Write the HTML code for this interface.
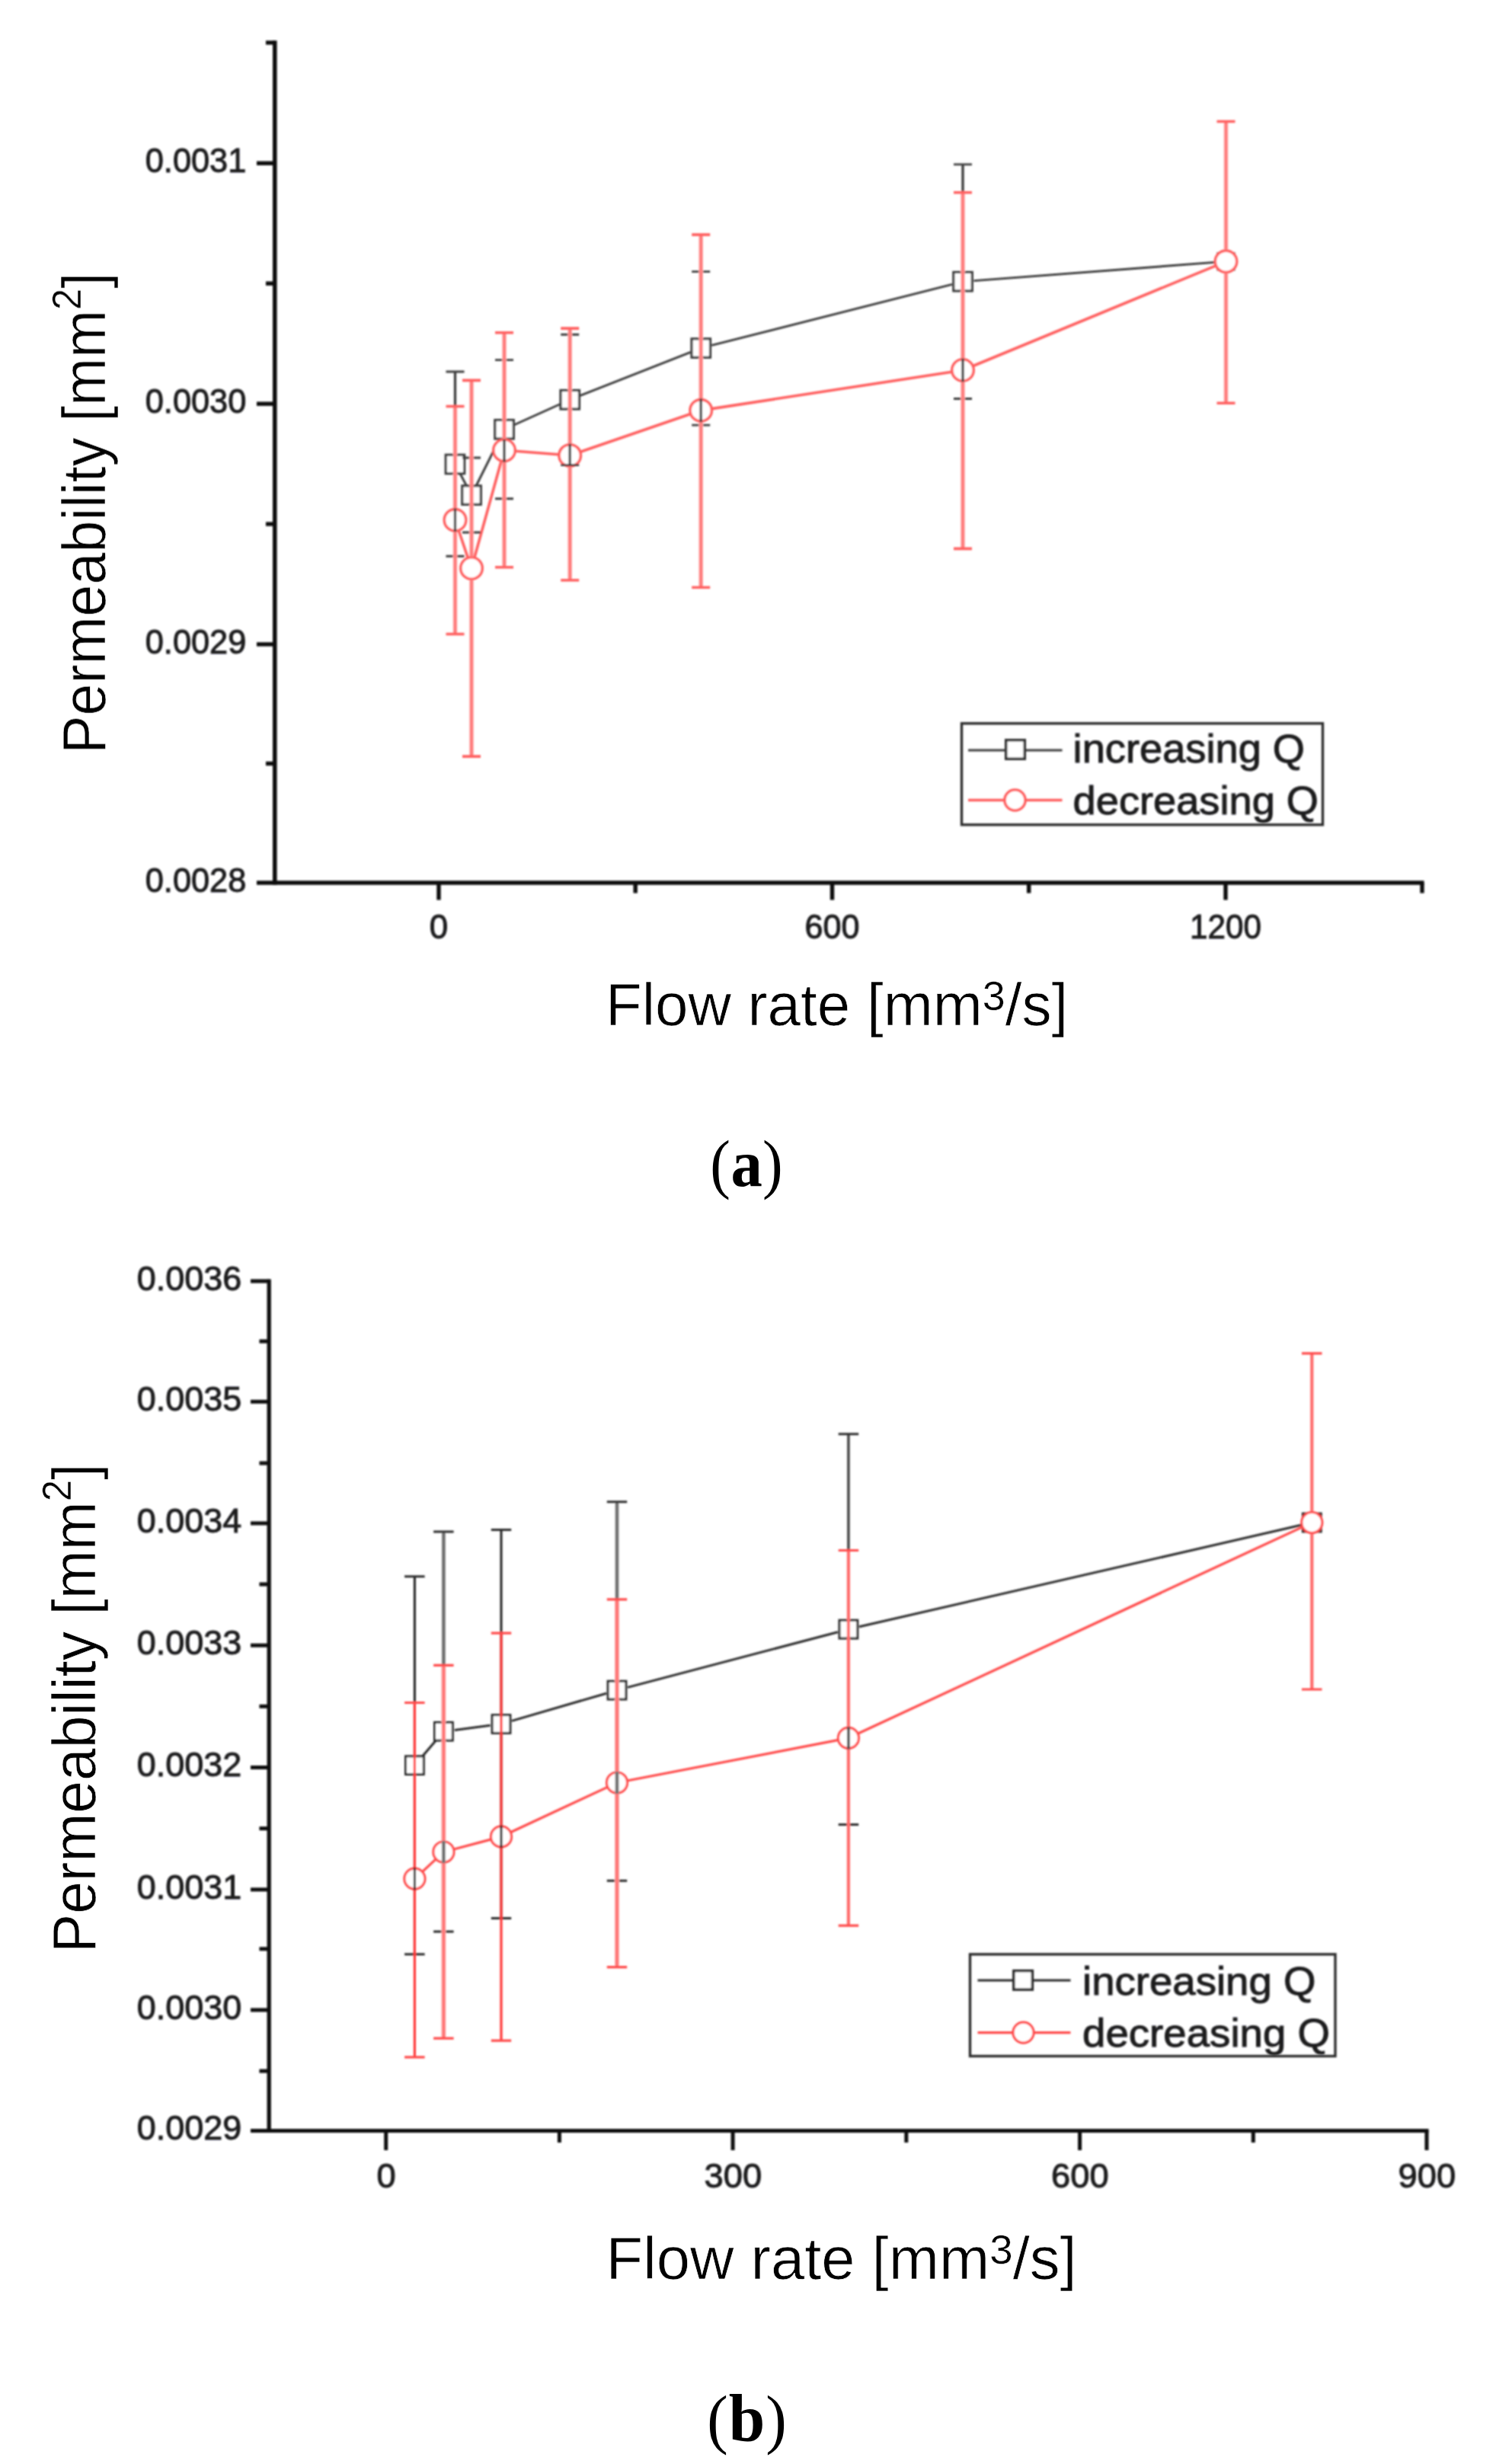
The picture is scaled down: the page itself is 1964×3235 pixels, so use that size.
<!DOCTYPE html>
<html lang="en"><head><meta charset="utf-8"><title>Permeability versus flow rate</title>
<style>
html,body{margin:0;padding:0;background:#fff}
svg{display:block}
.ls{font-family:"Liberation Sans",sans-serif}
.lf{font-family:"Liberation Serif",serif}
</style></head><body>
<svg width="1964" height="3235" viewBox="0 0 1964 3235">
<defs><filter id="bl" x="-2%" y="-2%" width="104%" height="104%"><feGaussianBlur stdDeviation="0.85"/></filter>
<filter id="bt" x="-2%" y="-10%" width="104%" height="120%"><feGaussianBlur stdDeviation="0.95"/></filter>
<filter id="bx" x="-5%" y="-5%" width="110%" height="110%"><feGaussianBlur stdDeviation="0.6"/></filter></defs>
<rect width="1964" height="3235" fill="#fff"/>
<g filter="url(#bl)">
<line x1="360.8" y1="53.2" x2="360.8" y2="1161.8" stroke="#0c0c0c" stroke-width="5.6"/>
<line x1="337" y1="1159" x2="1869.5" y2="1159" stroke="#0c0c0c" stroke-width="5.6"/>
<line x1="349" y1="56" x2="360.8" y2="56" stroke="#0c0c0c" stroke-width="5.4"/>
<line x1="337" y1="214.3" x2="360.8" y2="214.3" stroke="#0c0c0c" stroke-width="5.4"/>
<line x1="337" y1="530.2" x2="360.8" y2="530.2" stroke="#0c0c0c" stroke-width="5.4"/>
<line x1="337" y1="845.9" x2="360.8" y2="845.9" stroke="#0c0c0c" stroke-width="5.4"/>
<line x1="349" y1="372.2" x2="360.8" y2="372.2" stroke="#0c0c0c" stroke-width="5.4"/>
<line x1="349" y1="688" x2="360.8" y2="688" stroke="#0c0c0c" stroke-width="5.4"/>
<line x1="349" y1="1002.5" x2="360.8" y2="1002.5" stroke="#0c0c0c" stroke-width="5.4"/>
<line x1="576" y1="1159" x2="576" y2="1181.5" stroke="#0c0c0c" stroke-width="5.4"/>
<line x1="1092.5" y1="1159" x2="1092.5" y2="1181.5" stroke="#0c0c0c" stroke-width="5.4"/>
<line x1="1609" y1="1159" x2="1609" y2="1181.5" stroke="#0c0c0c" stroke-width="5.4"/>
<line x1="834.2" y1="1159" x2="834.2" y2="1172.5" stroke="#0c0c0c" stroke-width="5.4"/>
<line x1="1350.7" y1="1159" x2="1350.7" y2="1172.5" stroke="#0c0c0c" stroke-width="5.4"/>
<line x1="1867" y1="1159" x2="1867" y2="1172.5" stroke="#0c0c0c" stroke-width="5.4"/>
</g>
<g filter="url(#bl)">
<line x1="604.3" y1="622.3" x2="612.2" y2="637.2" stroke="#3c3c3c" stroke-width="2.9"/>
<line x1="625.5" y1="637" x2="655.5" y2="576.8" stroke="#3c3c3c" stroke-width="2.9"/>
<line x1="675.2" y1="557.8" x2="735" y2="530.7" stroke="#3c3c3c" stroke-width="2.9"/>
<line x1="761.7" y1="519.4" x2="906.7" y2="462.3" stroke="#3c3c3c" stroke-width="2.9"/>
<line x1="934.3" y1="453.4" x2="1249.9" y2="373.3" stroke="#3c3c3c" stroke-width="2.9"/>
<line x1="1278.5" y1="368.6" x2="1595" y2="344.4" stroke="#3c3c3c" stroke-width="2.9"/>
<rect x="585.2" y="597.2" width="24.5" height="24.5" fill="#fff" stroke="#3c3c3c" stroke-width="3.2"/>
<rect x="606.8" y="637.8" width="24.5" height="24.5" fill="#fff" stroke="#3c3c3c" stroke-width="3.2"/>
<rect x="649.8" y="551.5" width="24.5" height="24.5" fill="#fff" stroke="#3c3c3c" stroke-width="3.2"/>
<rect x="736" y="512.5" width="24.5" height="24.5" fill="#fff" stroke="#3c3c3c" stroke-width="3.2"/>
<rect x="908" y="444.8" width="24.5" height="24.5" fill="#fff" stroke="#3c3c3c" stroke-width="3.2"/>
<rect x="1251.8" y="357.4" width="24.5" height="24.5" fill="#fff" stroke="#3c3c3c" stroke-width="3.2"/>
<rect x="1599" y="332.8" width="21" height="21" fill="#fff" stroke="#3c3c3c" stroke-width="3.2"/>
<line x1="602.2" y1="696.5" x2="614.3" y2="732.3" stroke="#ff5e5e" stroke-width="3.6"/>
<line x1="622.9" y1="732" x2="658.1" y2="605.2" stroke="#ff5e5e" stroke-width="3.6"/>
<line x1="676.5" y1="592.3" x2="733.7" y2="596.8" stroke="#ff5e5e" stroke-width="3.6"/>
<line x1="761.9" y1="593.2" x2="906.5" y2="543.5" stroke="#ff5e5e" stroke-width="3.6"/>
<line x1="934.5" y1="536.6" x2="1249.7" y2="488.2" stroke="#ff5e5e" stroke-width="3.6"/>
<line x1="1277.4" y1="480.5" x2="1596.1" y2="348.8" stroke="#ff5e5e" stroke-width="3.6"/>
<circle cx="597.5" cy="682.8" r="14.2" fill="#fff" stroke="#ff5e5e" stroke-width="3.6"/>
<circle cx="619" cy="746" r="14.2" fill="#fff" stroke="#ff5e5e" stroke-width="3.6"/>
<circle cx="662" cy="591.2" r="14.2" fill="#fff" stroke="#ff5e5e" stroke-width="3.6"/>
<circle cx="748.2" cy="597.9" r="14.2" fill="#fff" stroke="#ff5e5e" stroke-width="3.6"/>
<circle cx="920.2" cy="538.8" r="14.2" fill="#fff" stroke="#ff5e5e" stroke-width="3.6"/>
<circle cx="1264" cy="486" r="14.2" fill="#fff" stroke="#ff5e5e" stroke-width="3.6"/>
<circle cx="1609.5" cy="343.3" r="14.2" fill="#fff" stroke="#ff5e5e" stroke-width="3.6"/>
<path d="M597.5 488V596.1 M597.5 622.9V730.3" fill="none" stroke="#3c3c3c" stroke-width="3.3"/>
<path d="M585.5 488H609.5 M585.5 730.3H609.5" fill="none" stroke="#3c3c3c" stroke-width="2.9"/>
<path d="M619 601V636.6 M619 663.4V699" fill="none" stroke="#3c3c3c" stroke-width="3.3"/>
<path d="M607 601H631 M607 699H631" fill="none" stroke="#3c3c3c" stroke-width="2.9"/>
<path d="M662 472.6V550.4 M662 577.1V654.7" fill="none" stroke="#3c3c3c" stroke-width="3.3"/>
<path d="M650 472.6H674 M650 654.7H674" fill="none" stroke="#3c3c3c" stroke-width="2.9"/>
<path d="M748.2 439.2V511.4 M748.2 538.1V610.6" fill="none" stroke="#3c3c3c" stroke-width="3.3"/>
<path d="M736.2 439.2H760.2 M736.2 610.6H760.2" fill="none" stroke="#3c3c3c" stroke-width="2.9"/>
<path d="M920.2 356.6V443.6 M920.2 470.4V558.1" fill="none" stroke="#3c3c3c" stroke-width="3.3"/>
<path d="M908.2 356.6H932.2 M908.2 558.1H932.2" fill="none" stroke="#3c3c3c" stroke-width="2.9"/>
<path d="M1264 215.9V356.3 M1264 383.1V523.5" fill="none" stroke="#3c3c3c" stroke-width="3.3"/>
<path d="M1252 215.9H1276 M1252 523.5H1276" fill="none" stroke="#3c3c3c" stroke-width="2.9"/>
<path d="M597.5 533.5V667.3 M597.5 698.3V832.5" fill="none" stroke="#ffa2a2" stroke-width="5.6"/>
<path d="M597.5 533.5V667.3 M597.5 698.3V832.5" fill="none" stroke="#ff7070" stroke-width="2.6"/>
<path d="M585.5 533.5H609.5 M585.5 832.5H609.5" fill="none" stroke="#ff5e5e" stroke-width="3.6"/>
<path d="M619 499.4V730.5 M619 761.5V993.1" fill="none" stroke="#ffa2a2" stroke-width="5.6"/>
<path d="M619 499.4V730.5 M619 761.5V993.1" fill="none" stroke="#ff7070" stroke-width="2.6"/>
<path d="M607 499.4H631 M607 993.1H631" fill="none" stroke="#ff5e5e" stroke-width="3.6"/>
<path d="M662 436.8V575.7 M662 606.7V744.8" fill="none" stroke="#ffa2a2" stroke-width="5.6"/>
<path d="M662 436.8V575.7 M662 606.7V744.8" fill="none" stroke="#ff7070" stroke-width="2.6"/>
<path d="M650 436.8H674 M650 744.8H674" fill="none" stroke="#ff5e5e" stroke-width="3.6"/>
<path d="M748.2 431.1V582.4 M748.2 613.4V761.8" fill="none" stroke="#ffa2a2" stroke-width="5.6"/>
<path d="M748.2 431.1V582.4 M748.2 613.4V761.8" fill="none" stroke="#ff7070" stroke-width="2.6"/>
<path d="M736.2 431.1H760.2 M736.2 761.8H760.2" fill="none" stroke="#ff5e5e" stroke-width="3.6"/>
<path d="M920.2 308.1V523.3 M920.2 554.3V771.3" fill="none" stroke="#ffa2a2" stroke-width="5.6"/>
<path d="M920.2 308.1V523.3 M920.2 554.3V771.3" fill="none" stroke="#ff7070" stroke-width="2.6"/>
<path d="M908.2 308.1H932.2 M908.2 771.3H932.2" fill="none" stroke="#ff5e5e" stroke-width="3.6"/>
<path d="M1264 252.7V470.5 M1264 501.5V720.4" fill="none" stroke="#ffa2a2" stroke-width="5.6"/>
<path d="M1264 252.7V470.5 M1264 501.5V720.4" fill="none" stroke="#ff7070" stroke-width="2.6"/>
<path d="M1252 252.7H1276 M1252 720.4H1276" fill="none" stroke="#ff5e5e" stroke-width="3.6"/>
<path d="M1609.5 159.5V327.8 M1609.5 358.8V529.2" fill="none" stroke="#ffa2a2" stroke-width="5.6"/>
<path d="M1609.5 159.5V327.8 M1609.5 358.8V529.2" fill="none" stroke="#ff7070" stroke-width="2.6"/>
<path d="M1597.5 159.5H1621.5 M1597.5 529.2H1621.5" fill="none" stroke="#ff5e5e" stroke-width="3.6"/>
<rect x="1262.5" y="949.8" width="474" height="133" fill="none" stroke="#2e2e2e" stroke-width="3.4"/>
<line x1="1271" y1="985" x2="1394.5" y2="985" stroke="#3c3c3c" stroke-width="3.2"/>
<rect x="1320.7" y="971.7" width="24.6" height="24.6" fill="#fff" stroke="#333" stroke-width="3.5"/>
<line x1="1271" y1="1050.5" x2="1394.5" y2="1050.5" stroke="#ff5e5e" stroke-width="3.6"/>
<circle cx="1332.5" cy="1050.5" r="13.5" fill="#fff" stroke="#ff5e5e" stroke-width="3.6"/>
</g>
<g filter="url(#bt)">
<text class="ls" transform="translate(323.3 226.3) scale(0.9853 1)" font-size="44" text-anchor="end" fill="#1b1b1f" stroke="#1b1b1f" stroke-width="1.0">0.0031</text>
<text class="ls" transform="translate(323.3 542.2) scale(0.9853 1)" font-size="44" text-anchor="end" fill="#1b1b1f" stroke="#1b1b1f" stroke-width="1.0">0.0030</text>
<text class="ls" transform="translate(323.3 857.9) scale(0.9853 1)" font-size="44" text-anchor="end" fill="#1b1b1f" stroke="#1b1b1f" stroke-width="1.0">0.0029</text>
<text class="ls" transform="translate(323.3 1171) scale(0.9853 1)" font-size="44" text-anchor="end" fill="#1b1b1f" stroke="#1b1b1f" stroke-width="1.0">0.0028</text>
<text class="ls" transform="translate(576 1232) scale(0.9971 1)" font-size="44" text-anchor="middle" fill="#1b1b1f" stroke="#1b1b1f" stroke-width="1.0">0</text>
<text class="ls" transform="translate(1092.5 1232) scale(0.9808 1)" font-size="44" text-anchor="middle" fill="#1b1b1f" stroke="#1b1b1f" stroke-width="1.0">600</text>
<text class="ls" transform="translate(1609 1232) scale(0.9603 1)" font-size="44" text-anchor="middle" fill="#1b1b1f" stroke="#1b1b1f" stroke-width="1.0">1200</text>
<text class="ls" transform="translate(1408.6 1000.6) scale(1.0431 1)" font-size="52" text-anchor="start" fill="#1b1b1f" stroke="#1b1b1f" stroke-width="1.0">increasing Q</text>
<text class="ls" transform="translate(1408.6 1068.8) scale(1.0427 1)" font-size="52" text-anchor="start" fill="#1b1b1f" stroke="#1b1b1f" stroke-width="1.0">decreasing Q</text>
</g>
<g filter="url(#bx)">
<text class="ls" transform="translate(794.9 1346) scale(1.0149 1)" font-size="77" fill="#050505" stroke="#fff" stroke-width="0.7">Flow rate [mm<tspan font-size="53" dy="-20" stroke-width="0.4">3</tspan><tspan dy="20">/s]</tspan></text>
<text class="ls" transform="translate(138 989.8) rotate(-90) scale(0.9553 1)" font-size="79" fill="#050505" stroke="#fff" stroke-width="0.7">Permeability [mm<tspan font-size="53" dy="-32" stroke-width="0.4">2</tspan><tspan dy="32">]</tspan></text>
</g>
<text class="lf" transform="translate(0 1556.8) scale(0.93 1)" font-size="86" fill="#000"><tspan x="1002.56">(</tspan><tspan x="1031.67" font-size="89" font-weight="bold">a</tspan><tspan x="1076.33">)</tspan></text>
<g filter="url(#bl)">
<line x1="353.2" y1="1679.6" x2="353.2" y2="2800.1" stroke="#0c0c0c" stroke-width="5.2"/>
<line x1="329" y1="2797.5" x2="1875.6" y2="2797.5" stroke="#0c0c0c" stroke-width="5.2"/>
<line x1="329" y1="1682" x2="353.2" y2="1682" stroke="#0c0c0c" stroke-width="5.0"/>
<line x1="329" y1="1840.3" x2="353.2" y2="1840.3" stroke="#0c0c0c" stroke-width="5.0"/>
<line x1="329" y1="1999.9" x2="353.2" y2="1999.9" stroke="#0c0c0c" stroke-width="5.0"/>
<line x1="329" y1="2160.2" x2="353.2" y2="2160.2" stroke="#0c0c0c" stroke-width="5.0"/>
<line x1="329" y1="2320.5" x2="353.2" y2="2320.5" stroke="#0c0c0c" stroke-width="5.0"/>
<line x1="329" y1="2480.8" x2="353.2" y2="2480.8" stroke="#0c0c0c" stroke-width="5.0"/>
<line x1="329" y1="2638.9" x2="353.2" y2="2638.9" stroke="#0c0c0c" stroke-width="5.0"/>
<line x1="340.5" y1="1761" x2="353.2" y2="1761" stroke="#0c0c0c" stroke-width="5.0"/>
<line x1="340.5" y1="1921" x2="353.2" y2="1921" stroke="#0c0c0c" stroke-width="5.0"/>
<line x1="340.5" y1="2080" x2="353.2" y2="2080" stroke="#0c0c0c" stroke-width="5.0"/>
<line x1="340.5" y1="2240.3" x2="353.2" y2="2240.3" stroke="#0c0c0c" stroke-width="5.0"/>
<line x1="340.5" y1="2400.6" x2="353.2" y2="2400.6" stroke="#0c0c0c" stroke-width="5.0"/>
<line x1="340.5" y1="2558.7" x2="353.2" y2="2558.7" stroke="#0c0c0c" stroke-width="5.0"/>
<line x1="340.5" y1="2719.1" x2="353.2" y2="2719.1" stroke="#0c0c0c" stroke-width="5.0"/>
<line x1="506.7" y1="2797.5" x2="506.7" y2="2823" stroke="#0c0c0c" stroke-width="5.0"/>
<line x1="734.4" y1="2797.5" x2="734.4" y2="2813" stroke="#0c0c0c" stroke-width="5.0"/>
<line x1="962.1" y1="2797.5" x2="962.1" y2="2823" stroke="#0c0c0c" stroke-width="5.0"/>
<line x1="1189.8" y1="2797.5" x2="1189.8" y2="2813" stroke="#0c0c0c" stroke-width="5.0"/>
<line x1="1417.6" y1="2797.5" x2="1417.6" y2="2823" stroke="#0c0c0c" stroke-width="5.0"/>
<line x1="1645.3" y1="2797.5" x2="1645.3" y2="2813" stroke="#0c0c0c" stroke-width="5.0"/>
<line x1="1873" y1="2797.5" x2="1873" y2="2823" stroke="#0c0c0c" stroke-width="5.0"/>
</g>
<g filter="url(#bl)">
<line x1="553.8" y1="2306.7" x2="573" y2="2284.2" stroke="#2b2b2b" stroke-width="3.0"/>
<line x1="596.8" y1="2271.4" x2="643.6" y2="2265.3" stroke="#2b2b2b" stroke-width="3.0"/>
<line x1="671.9" y1="2259.4" x2="796.1" y2="2223.2" stroke="#2b2b2b" stroke-width="3.0"/>
<line x1="824" y1="2215.4" x2="1099.9" y2="2142.8" stroke="#2b2b2b" stroke-width="3.0"/>
<line x1="1128" y1="2135.8" x2="1708.2" y2="2002.3" stroke="#2b2b2b" stroke-width="3.0"/>
<rect x="532.5" y="2305.8" width="23.8" height="23.8" fill="#fff" stroke="#2b2b2b" stroke-width="3.0"/>
<rect x="570.5" y="2261.3" width="23.8" height="23.8" fill="#fff" stroke="#2b2b2b" stroke-width="3.0"/>
<rect x="646.1" y="2251.6" width="23.8" height="23.8" fill="#fff" stroke="#2b2b2b" stroke-width="3.0"/>
<rect x="798.1" y="2207.2" width="23.8" height="23.8" fill="#fff" stroke="#2b2b2b" stroke-width="3.0"/>
<rect x="1102" y="2127.2" width="23.8" height="23.8" fill="#fff" stroke="#2b2b2b" stroke-width="3.0"/>
<rect x="1710.4" y="1987.1" width="23.8" height="23.8" fill="#fff" stroke="#2b2b2b" stroke-width="3.0"/>
<line x1="555.1" y1="2456.8" x2="571.7" y2="2441.3" stroke="#ff4a4a" stroke-width="3.2"/>
<line x1="596.4" y1="2427.8" x2="644" y2="2415.1" stroke="#ff4a4a" stroke-width="3.2"/>
<line x1="671.1" y1="2405.3" x2="796.9" y2="2346.6" stroke="#ff4a4a" stroke-width="3.2"/>
<line x1="824.2" y1="2337.8" x2="1099.7" y2="2284.6" stroke="#ff4a4a" stroke-width="3.2"/>
<line x1="1127" y1="2275.8" x2="1709.2" y2="2005.1" stroke="#ff4a4a" stroke-width="3.2"/>
<circle cx="544.4" cy="2466.6" r="13.5" fill="#fff" stroke="#ff4a4a" stroke-width="3.2"/>
<circle cx="582.4" cy="2431.5" r="13.5" fill="#fff" stroke="#ff4a4a" stroke-width="3.2"/>
<circle cx="658" cy="2411.4" r="13.5" fill="#fff" stroke="#ff4a4a" stroke-width="3.2"/>
<circle cx="810" cy="2340.5" r="13.5" fill="#fff" stroke="#ff4a4a" stroke-width="3.2"/>
<circle cx="1113.9" cy="2281.9" r="13.5" fill="#fff" stroke="#ff4a4a" stroke-width="3.2"/>
<circle cx="1722.3" cy="1999" r="13.5" fill="#fff" stroke="#ff4a4a" stroke-width="3.2"/>
<path d="M544.4 2069.7V2304.8 M544.4 2330.6V2565.8" fill="none" stroke="#232323" stroke-width="3.0"/>
<path d="M531.1 2069.7H557.6 M531.1 2565.8H557.6" fill="none" stroke="#2b2b2b" stroke-width="3.0"/>
<path d="M582.4 2010.9V2260.3 M582.4 2286.1V2536.1" fill="none" stroke="#8c8c8c" stroke-width="5.0"/>
<path d="M582.4 2010.9V2260.3 M582.4 2286.1V2536.1" fill="none" stroke="#5e5e5e" stroke-width="2.0"/>
<path d="M569.1 2010.9H595.6 M569.1 2536.1H595.6" fill="none" stroke="#2b2b2b" stroke-width="3.0"/>
<path d="M658 2008.5V2250.6 M658 2276.4V2518.4" fill="none" stroke="#232323" stroke-width="3.0"/>
<path d="M644.8 2008.5H671.2 M644.8 2518.4H671.2" fill="none" stroke="#2b2b2b" stroke-width="3.0"/>
<path d="M810 1971.8V2206.2 M810 2232V2469.3" fill="none" stroke="#8c8c8c" stroke-width="5.0"/>
<path d="M810 1971.8V2206.2 M810 2232V2469.3" fill="none" stroke="#5e5e5e" stroke-width="2.0"/>
<path d="M796.8 1971.8H823.2 M796.8 2469.3H823.2" fill="none" stroke="#2b2b2b" stroke-width="3.0"/>
<path d="M1113.9 1882.7V2126.2 M1113.9 2152V2395.5" fill="none" stroke="#484848" stroke-width="3.6"/>
<path d="M1100.7 1882.7H1127.2 M1100.7 2395.5H1127.2" fill="none" stroke="#2b2b2b" stroke-width="3.0"/>
<path d="M544.4 2235.5V2452 M544.4 2481.2V2700.9" fill="none" stroke="#ff3838" stroke-width="3.2"/>
<path d="M531.1 2235.5H557.6 M531.1 2700.9H557.6" fill="none" stroke="#ff4a4a" stroke-width="3.2"/>
<path d="M582.4 2186.3V2416.9 M582.4 2446.1V2676.1" fill="none" stroke="#ff9c9c" stroke-width="5.8"/>
<path d="M582.4 2186.3V2416.9 M582.4 2446.1V2676.1" fill="none" stroke="#ff6666" stroke-width="2.4"/>
<path d="M569.1 2186.3H595.6 M569.1 2676.1H595.6" fill="none" stroke="#ff4a4a" stroke-width="3.2"/>
<path d="M658 2144.2V2396.8 M658 2426V2679.1" fill="none" stroke="#ff3838" stroke-width="3.2"/>
<path d="M644.8 2144.2H671.2 M644.8 2679.1H671.2" fill="none" stroke="#ff4a4a" stroke-width="3.2"/>
<path d="M810 2099.8V2325.9 M810 2355.1V2582.6" fill="none" stroke="#ff9c9c" stroke-width="5.8"/>
<path d="M810 2099.8V2325.9 M810 2355.1V2582.6" fill="none" stroke="#ff6666" stroke-width="2.4"/>
<path d="M796.8 2099.8H823.2 M796.8 2582.6H823.2" fill="none" stroke="#ff4a4a" stroke-width="3.2"/>
<path d="M1113.9 2035.5V2267.3 M1113.9 2296.5V2528.2" fill="none" stroke="#ff6c6c" stroke-width="4.2"/>
<path d="M1100.7 2035.5H1127.2 M1100.7 2528.2H1127.2" fill="none" stroke="#ff4a4a" stroke-width="3.2"/>
<path d="M1722.3 1776.8V1984.4 M1722.3 2013.6V2218" fill="none" stroke="#ff6c6c" stroke-width="4.2"/>
<path d="M1709 1776.8H1735.5 M1709 2218H1735.5" fill="none" stroke="#ff4a4a" stroke-width="3.2"/>
<rect x="1273.5" y="2565.8" width="479.5" height="133.7" fill="none" stroke="#2e2e2e" stroke-width="3.4"/>
<line x1="1283.5" y1="2600" x2="1405.5" y2="2600" stroke="#2b2b2b" stroke-width="3.0"/>
<rect x="1330.8" y="2587.5" width="24.6" height="24.6" fill="#fff" stroke="#2a2a2a" stroke-width="3.5"/>
<line x1="1283.5" y1="2668.6" x2="1405.5" y2="2668.6" stroke="#ff4a4a" stroke-width="3.2"/>
<circle cx="1343.5" cy="2668.6" r="13.5" fill="#fff" stroke="#ff4a4a" stroke-width="3.2"/>
</g>
<g filter="url(#bt)">
<text class="ls" transform="translate(317.2 1693.8) scale(0.9990 1)" font-size="45" text-anchor="end" fill="#1b1b1f" stroke="#1b1b1f" stroke-width="1.0">0.0036</text>
<text class="ls" transform="translate(317.2 1852.1) scale(0.9990 1)" font-size="45" text-anchor="end" fill="#1b1b1f" stroke="#1b1b1f" stroke-width="1.0">0.0035</text>
<text class="ls" transform="translate(317.2 2011.7) scale(0.9990 1)" font-size="45" text-anchor="end" fill="#1b1b1f" stroke="#1b1b1f" stroke-width="1.0">0.0034</text>
<text class="ls" transform="translate(317.2 2172) scale(0.9990 1)" font-size="45" text-anchor="end" fill="#1b1b1f" stroke="#1b1b1f" stroke-width="1.0">0.0033</text>
<text class="ls" transform="translate(317.2 2332.3) scale(0.9990 1)" font-size="45" text-anchor="end" fill="#1b1b1f" stroke="#1b1b1f" stroke-width="1.0">0.0032</text>
<text class="ls" transform="translate(317.2 2492.6) scale(0.9990 1)" font-size="45" text-anchor="end" fill="#1b1b1f" stroke="#1b1b1f" stroke-width="1.0">0.0031</text>
<text class="ls" transform="translate(317.2 2650.7) scale(0.9990 1)" font-size="45" text-anchor="end" fill="#1b1b1f" stroke="#1b1b1f" stroke-width="1.0">0.0030</text>
<text class="ls" transform="translate(317.2 2809.3) scale(0.9990 1)" font-size="45" text-anchor="end" fill="#1b1b1f" stroke="#1b1b1f" stroke-width="1.0">0.0029</text>
<text class="ls" transform="translate(507 2872) scale(1.0069 1)" font-size="45" text-anchor="middle" fill="#1b1b1f" stroke="#1b1b1f" stroke-width="1.0">0</text>
<text class="ls" transform="translate(962.4 2872) scale(1.0069 1)" font-size="45" text-anchor="middle" fill="#1b1b1f" stroke="#1b1b1f" stroke-width="1.0">300</text>
<text class="ls" transform="translate(1417.9 2872) scale(1.0069 1)" font-size="45" text-anchor="middle" fill="#1b1b1f" stroke="#1b1b1f" stroke-width="1.0">600</text>
<text class="ls" transform="translate(1873.3 2872) scale(1.0069 1)" font-size="45" text-anchor="middle" fill="#1b1b1f" stroke="#1b1b1f" stroke-width="1.0">900</text>
<text class="ls" transform="translate(1421 2618.6) scale(1.0400 1)" font-size="52.5" text-anchor="start" fill="#1b1b1f" stroke="#1b1b1f" stroke-width="1.0">increasing Q</text>
<text class="ls" transform="translate(1421 2687) scale(1.0408 1)" font-size="52.5" text-anchor="start" fill="#1b1b1f" stroke="#1b1b1f" stroke-width="1.0">decreasing Q</text>
</g>
<g filter="url(#bx)">
<text class="ls" transform="translate(795.5 2991.8) scale(1.0329 1)" font-size="77" fill="#050505" stroke="#fff" stroke-width="0.7">Flow rate [mm<tspan font-size="53" dy="-20" stroke-width="0.4">3</tspan><tspan dy="20">/s]</tspan></text>
<text class="ls" transform="translate(125 2564) rotate(-90) scale(0.9595 1)" font-size="80" fill="#050505" stroke="#fff" stroke-width="0.7">Permeability [mm<tspan font-size="53" dy="-32" stroke-width="0.4">2</tspan><tspan dy="32">]</tspan></text>
</g>
<text class="lf" transform="translate(0 3204.8) scale(0.96 1)" font-size="86" fill="#000"><tspan x="966.95">(</tspan><tspan x="996.73" font-size="89" font-weight="bold">b</tspan><tspan x="1047.12">)</tspan></text>
</svg>
</body></html>
